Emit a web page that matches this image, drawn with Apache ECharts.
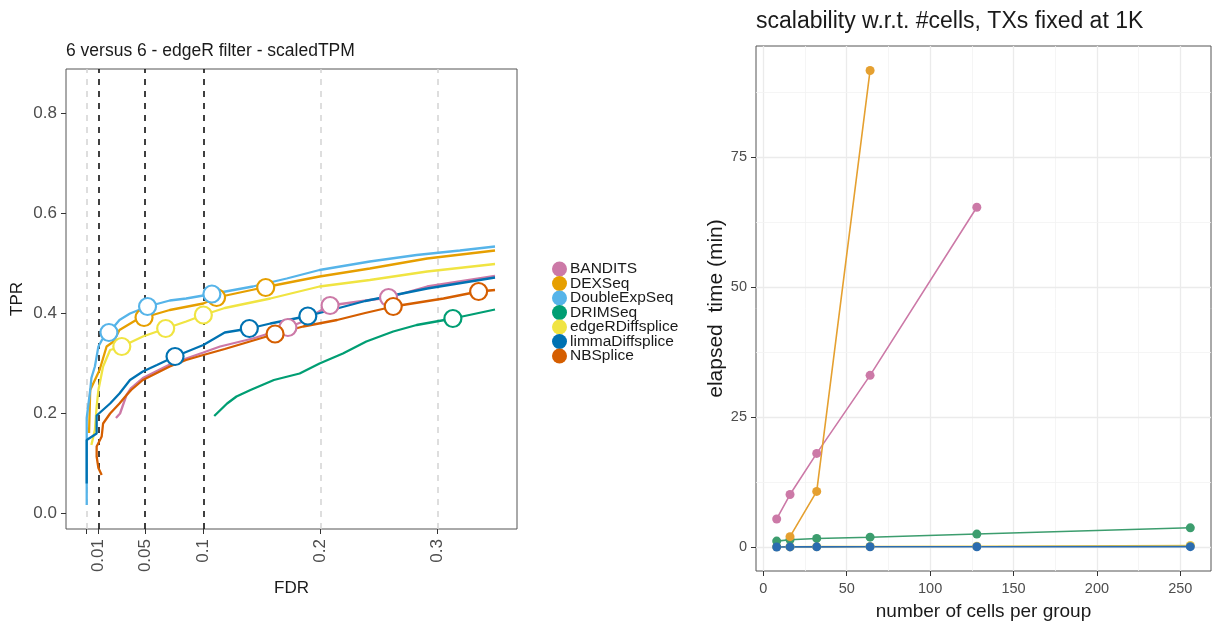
<!DOCTYPE html>
<html>
<head>
<meta charset="utf-8">
<script src="https://cdn.jsdelivr.net/npm/echarts@6/dist/echarts.min.js"></script>
<style>
  html, body { margin: 0; padding: 0; background: #ffffff; }
  #chart { width: 1212px; height: 626px; }
</style>
</head>
<body>
<div id="chart"></div>
<script>
// ---------- left panel: FDR / TPR curves ----------
const methods = ['BANDITS', 'DEXSeq', 'DoubleExpSeq', 'DRIMSeq', 'edgeRDiffsplice', 'limmaDiffsplice', 'NBSplice'];

// [FDR, TPR] along each curve
const curveBANDITS = [[0.025,0.19],[0.0285,0.199],[0.034,0.236],[0.038,0.25],[0.048,0.27],[0.071,0.297],[0.085,0.309],[0.0997,0.321],[0.114,0.333],[0.142,0.349],[0.172,0.371],[0.185,0.383],[0.2,0.405],[0.208,0.415],[0.242,0.426],[0.258,0.431],[0.291,0.453],[0.349,0.474]];
const curveDEXSeq = [[0.002,0.16],[0.003,0.246],[0.011,0.286],[0.017,0.333],[0.023,0.343],[0.028,0.366],[0.043,0.387],[0.049,0.391],[0.071,0.406],[0.0997,0.419],[0.111,0.431],[0.151,0.451],[0.199,0.473],[0.242,0.489],[0.291,0.509],[0.349,0.525]];
const curveDoubleExpSeq = [[0,0.016],[0,0.19],[0.003,0.246],[0.004,0.27],[0.007,0.293],[0.01,0.333],[0.013,0.346],[0.019,0.361],[0.028,0.386],[0.037,0.399],[0.052,0.413],[0.071,0.425],[0.085,0.429],[0.107,0.438],[0.142,0.453],[0.171,0.469],[0.199,0.486],[0.242,0.503],[0.282,0.516],[0.319,0.525],[0.349,0.533]];
const curveDRIMSeq = [[0.109,0.194],[0.12,0.219],[0.128,0.233],[0.14,0.246],[0.16,0.266],[0.182,0.279],[0.199,0.299],[0.219,0.319],[0.239,0.343],[0.262,0.363],[0.282,0.376],[0.313,0.389],[0.349,0.407]];
const curveEdgeR = [[0.004,0.136],[0.007,0.166],[0.0085,0.213],[0.01,0.246],[0.014,0.293],[0.02,0.326],[0.03,0.333],[0.048,0.353],[0.0675,0.369],[0.085,0.383],[0.0997,0.396],[0.118,0.41],[0.157,0.429],[0.199,0.453],[0.242,0.466],[0.291,0.483],[0.349,0.498]];
const curveLimma = [[0,0.059],[0,0.146],[0.0085,0.159],[0.0085,0.195],[0.02,0.219],[0.028,0.239],[0.037,0.266],[0.048,0.283],[0.06,0.296],[0.0755,0.313],[0.0997,0.336],[0.118,0.361],[0.139,0.369],[0.157,0.379],[0.189,0.394],[0.214,0.409],[0.238,0.424],[0.291,0.449],[0.349,0.471]];
const curveNBSplice = [[0.0128,0.076],[0.01,0.09],[0.0085,0.113],[0.0085,0.133],[0.0128,0.153],[0.014,0.179],[0.02,0.199],[0.028,0.219],[0.033,0.233],[0.038,0.246],[0.048,0.266],[0.071,0.293],[0.085,0.306],[0.0997,0.316],[0.118,0.328],[0.161,0.358],[0.185,0.373],[0.214,0.386],[0.238,0.4],[0.262,0.413],[0.305,0.429],[0.335,0.443],[0.349,0.446]];

// [FDR, TPR] where each method crosses the 0.01 / 0.05 / 0.1 cutoffs
const cutBANDITS = [[0.172,0.371],[0.208,0.415],[0.258,0.431]];
const cutDEXSeq = [[0.049,0.391],[0.111,0.431],[0.153,0.451]];
const cutDoubleExpSeq = [[0.019,0.361],[0.052,0.413],[0.107,0.438]];
const cutDRIMSeq = [[0.313,0.389]];
const cutEdgeR = [[0.030,0.333],[0.0675,0.369],[0.0997,0.396]];
const cutLimma = [[0.0755,0.313],[0.139,0.369],[0.189,0.394]];
const cutNBSplice = [[0.161,0.358],[0.262,0.413],[0.335,0.443]];

const fdrThresholds = [0.01, 0.05, 0.1];
const fdrGrid = [0, 0.2, 0.3];
const fdrTicks = [0, 0.01, 0.05, 0.1, 0.2, 0.3];
const fdrLabels = [0.01, 0.05, 0.1, 0.2, 0.3];
const tprTicks = [0, 0.2, 0.4, 0.6, 0.8];

// ---------- right panel: run time vs number of cells ----------
const cellsPerGroup = [8, 16, 32, 64, 128, 256];
const timeBANDITS = [5.4, 10.1, 18.0, 33.0, 65.3, null];
const timeDEXSeq = [null, 2.0, 10.7, 91.6, null, null];
const timeDRIMSeq = [1.15, 1.4, 1.66, 1.9, 2.5, 3.7];
const timeEdgeR = [0.05, 0.06, 0.08, 0.1, 0.15, 0.3];
const timeLimma = [0.02, 0.03, 0.04, 0.05, 0.06, 0.08];
const cellTicks = [0, 50, 100, 150, 200, 250];
const cellMinor = [25, 75, 125, 175, 225];
const timeTicks = [0, 25, 50, 75];
const timeMinor = [12.5, 37.5, 62.5, 87.5];

const palette = {
  BANDITS: '#CC79A7', DEXSeq: '#E69F00', DoubleExpSeq: '#56B4E9', DRIMSeq: '#009E73',
  edgeRDiffsplice: '#F0E442', limmaDiffsplice: '#0072B2', NBSplice: '#D55E00'
};
const palette2 = { BANDITS: '#CC79A7', DEXSeq: '#E5A030', DRIMSeq: '#3C9D6E', edgeRDiffsplice: '#E8C84A', limmaDiffsplice: '#2B6CB0' };

const curves = {
  BANDITS: curveBANDITS, DEXSeq: curveDEXSeq, DoubleExpSeq: curveDoubleExpSeq, DRIMSeq: curveDRIMSeq,
  edgeRDiffsplice: curveEdgeR, limmaDiffsplice: curveLimma, NBSplice: curveNBSplice
};
const cuts = {
  BANDITS: cutBANDITS, DEXSeq: cutDEXSeq, DoubleExpSeq: cutDoubleExpSeq, DRIMSeq: cutDRIMSeq,
  edgeRDiffsplice: cutEdgeR, limmaDiffsplice: cutLimma, NBSplice: cutNBSplice
};
const times = {
  edgeRDiffsplice: timeEdgeR, DRIMSeq: timeDRIMSeq, BANDITS: timeBANDITS, DEXSeq: timeDEXSeq, limmaDiffsplice: timeLimma
};

const FONT = '"Liberation Sans", Arial, sans-serif';
const tickTextLeft = { color: '#4d4d4d', fontSize: 17, fontFamily: FONT };
const tickTextRight = { color: '#4d4d4d', fontSize: 14.5, fontFamily: FONT };
const axisTickStyle = { show: true, inside: false, length: 5, lineStyle: { color: '#333333', width: 1 } };

const series = [];

// reference lines for the left panel (kept beneath the curves)
series.push({
  type: 'line', xAxisIndex: 0, yAxisIndex: 0, data: [], silent: true, z: 1,
  markLine: {
    silent: true, z: 1, symbol: ['none', 'none'], label: { show: false }, animation: false,
    data: fdrGrid.map(v => ({ xAxis: v, lineStyle: { color: '#d3d3d3', type: [6, 6], width: 1.5 } }))
      .concat(fdrThresholds.map(v => ({ xAxis: v, lineStyle: { color: '#111111', type: [6, 6], width: 1.6 } })))
  }
});

// curves
methods.forEach(m => {
  series.push({
    name: m, type: 'line', xAxisIndex: 0, yAxisIndex: 0, data: curves[m],
    showSymbol: false, symbol: 'none', z: 3,
    lineStyle: { color: palette[m], width: 2.3 }, itemStyle: { color: palette[m] }
  });
});
// cutoff markers
methods.forEach(m => {
  series.push({
    name: m, type: 'scatter', xAxisIndex: 0, yAxisIndex: 0, data: cuts[m],
    symbol: 'circle', symbolSize: 17, z: 5,
    itemStyle: { color: '#ffffff', borderColor: palette[m], borderWidth: 2.2, opacity: 1 }
  });
});

// background grid for the right panel
series.push({
  type: 'line', xAxisIndex: 1, yAxisIndex: 1, data: [], silent: true, z: 1,
  markLine: {
    silent: true, z: 1, symbol: ['none', 'none'], label: { show: false }, animation: false,
    data: cellTicks.map(v => ({ xAxis: v, lineStyle: { color: '#ebebeb', type: 'solid', width: 1.3 } }))
      .concat(cellMinor.map(v => ({ xAxis: v, lineStyle: { color: '#f2f2f2', type: 'solid', width: 0.8 } })))
      .concat(timeTicks.map(v => ({ yAxis: v, lineStyle: { color: '#ebebeb', type: 'solid', width: 1.3 } })))
      .concat(timeMinor.map(v => ({ yAxis: v, lineStyle: { color: '#f2f2f2', type: 'solid', width: 0.8 } })))
  }
});

Object.keys(times).forEach(m => {
  const pts = [];
  cellsPerGroup.forEach((c, i) => { if (times[m][i] !== null) pts.push([c, times[m][i]]); });
  series.push({
    name: m, type: 'line', xAxisIndex: 1, yAxisIndex: 1, data: pts,
    symbol: 'circle', symbolSize: 9, showSymbol: true, z: 3,
    lineStyle: { color: palette2[m], width: 1.6 },
    itemStyle: { color: palette2[m], borderWidth: 0 }
  });
});

const option = {
  animation: false,
  backgroundColor: '#ffffff',
  title: [
    { text: '6 versus 6 - edgeR filter - scaledTPM', left: 61, top: 37,
      textStyle: { fontFamily: FONT, fontSize: 17.5, fontWeight: 'normal', color: '#1a1a1a' } },
    { text: 'scalability w.r.t. #cells, TXs fixed at 1K', left: 751, top: 5,
      textStyle: { fontFamily: FONT, fontSize: 23, fontWeight: 'normal', color: '#1a1a1a' } }
  ],
  legend: {
    orient: 'vertical', left: 547, top: 256,
    data: methods, icon: 'circle', itemWidth: 15, itemHeight: 15, itemGap: -1.5,
    selectedMode: false,
    textStyle: { fontFamily: FONT, fontSize: 15.5, color: '#1a1a1a', padding: [0, 0, 0, -2] }
  },
  grid: [
    { left: 66, top: 69, width: 451, height: 460, show: true, borderColor: '#555555', borderWidth: 1, backgroundColor: 'transparent' },
    { left: 756, top: 46, width: 455, height: 525, show: true, borderColor: '#555555', borderWidth: 1, backgroundColor: 'transparent' }
  ],
  xAxis: [
    {
      gridIndex: 0, type: 'value', min: -0.0177, max: 0.3678,
      name: 'FDR', nameLocation: 'middle', nameGap: 49,
      nameTextStyle: { fontFamily: FONT, fontSize: 17, color: '#1a1a1a' },
      axisLine: { show: false, onZero: false },
      axisTick: Object.assign({ customValues: fdrTicks }, axisTickStyle),
      axisLabel: Object.assign({ customValues: fdrLabels, rotate: 90, margin: 10, formatter: v => String(v) }, tickTextLeft),
      splitLine: { show: false }
    },
    {
      gridIndex: 1, type: 'value', min: -4.4, max: 268.4,
      name: 'number of cells per group', nameLocation: 'middle', nameGap: 31,
      nameTextStyle: { fontFamily: FONT, fontSize: 19, color: '#1a1a1a' },
      axisLine: { show: false, onZero: false },
      axisTick: Object.assign({ customValues: cellTicks }, axisTickStyle),
      axisLabel: Object.assign({ customValues: cellTicks, margin: 10 }, tickTextRight),
      splitLine: { show: false }
    }
  ],
  yAxis: [
    {
      gridIndex: 0, type: 'value', min: -0.032, max: 0.888,
      name: 'TPR', nameLocation: 'middle', nameGap: 40, nameRotate: 90,
      nameTextStyle: { fontFamily: FONT, fontSize: 17, color: '#1a1a1a' },
      axisLine: { show: false, onZero: false },
      axisTick: Object.assign({ customValues: tprTicks }, axisTickStyle),
      axisLabel: Object.assign({ customValues: tprTicks, margin: 9, formatter: v => v.toFixed(1) }, tickTextLeft),
      splitLine: { show: false }
    },
    {
      gridIndex: 1, type: 'value', min: -4.6, max: 96.3,
      name: 'elapsed  time (min)', nameLocation: 'middle', nameGap: 28, nameRotate: 90,
      nameTextStyle: { fontFamily: FONT, fontSize: 21, color: '#1a1a1a' },
      axisLine: { show: false, onZero: false },
      axisTick: Object.assign({ customValues: timeTicks }, axisTickStyle),
      axisLabel: Object.assign({ customValues: timeTicks, margin: 9 }, tickTextRight),
      splitLine: { show: false }
    }
  ],
  series: series
};

const chart = echarts.init(document.getElementById('chart'), null, { renderer: 'canvas' });
chart.setOption(option);
</script>
</body>
</html>
